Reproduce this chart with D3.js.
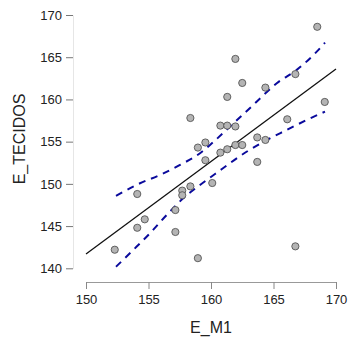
<!DOCTYPE html>
<html><head><meta charset="utf-8">
<script src="https://cdn.jsdelivr.net/npm/d3@7"></script>
<style>body{margin:0;background:#fff}svg{display:block}</style>
</head><body><svg id="c" width="350" height="340"></svg>
<script>
const xVals = [168.5,161.95,162.5,166.75,164.35,161.3,169.1,158.35,166.1,160.75,161.3,161.95,163.7,164.35,159.55,158.95,161.95,162.5,161.3,160.75,163.7,159.55,160.1,158.35,157.7,157.7,154.1,157.15,154.7,154.1,157.15,152.3,166.75,158.95];
const yVals = [168.6,164.8,161.95,163.0,161.4,160.3,159.7,157.8,157.65,156.9,156.9,156.8,155.5,155.2,154.9,154.3,154.6,154.6,154.1,153.7,152.6,152.8,150.1,149.7,149.2,148.65,148.8,146.9,145.8,144.8,144.3,142.2,142.6,141.2];
const fitX = [150,170];
const fitY = [141.7,163.6];
const upperX = [152.4,154.32,155.92,157.52,159.12,159.92,161.52,163.38,165.26,166.86,168.46,169.12];
const upperY = [148.57,150.07,151.05,152.24,153.63,154.61,156.78,159.35,161.92,163.5,165.66,166.73];
const lowerX = [152.4,153.78,155.12,156.46,157.78,159.12,160.32,162.98,164.46,166.06,167.66,169.12];
const lowerY = [140.19,142.17,144.15,146.32,148.29,149.87,151.17,153.93,155.2,156.39,157.57,158.55];
const xTicks = [150,155,160,165,170];
const yTicks = [140,145,150,155,160,165,170];

const svg = d3.select("#c");
const x = d3.scaleLinear().domain([150,170]).range([86,336]);
const y = d3.scaleLinear().domain([140,170]).range([268.3,15]);
const font = "Liberation Sans, Arial, sans-serif";

// y axis
const ya = svg.append("g").attr("transform","translate(73,0)")
  .call(d3.axisLeft(y).tickValues(yTicks).tickSize(7).tickSizeOuter(0).tickPadding(4).tickFormat(d3.format("d")));
ya.select(".domain").attr("stroke","#e6e6e6");
ya.selectAll(".tick line").attr("stroke","#777");
ya.selectAll("text").attr("font-family",font).attr("font-size",13).attr("fill","#222");

// x axis
const xa = svg.append("g").attr("transform","translate(0,282)")
  .call(d3.axisBottom(x).tickValues(xTicks).tickSize(7).tickSizeOuter(0).tickPadding(6).tickFormat(d3.format("d")));
xa.select(".domain").attr("stroke","#999");
xa.selectAll(".tick line").attr("stroke","#888");
xa.selectAll("text").attr("font-family",font).attr("font-size",13).attr("fill","#222");

// titles
svg.append("text").attr("x",211).attr("y",333).attr("text-anchor","middle")
  .attr("font-family",font).attr("font-size",16).attr("fill","#222").text("E_M1");
svg.append("text").attr("transform","translate(25,139) rotate(-90)").attr("text-anchor","middle")
  .attr("font-family",font).attr("font-size",16).attr("fill","#222").text("E_TECIDOS");

// fit line
const line = d3.line().x(d=>x(d[0])).y(d=>y(d[1]));
svg.append("path").datum(d3.zip(fitX,fitY)).attr("d",line)
  .attr("fill","none").attr("stroke","#111").attr("stroke-width",1.3);

// bands
const curve = d3.line().x(d=>x(d[0])).y(d=>y(d[1])).curve(d3.curveMonotoneX);
[[upperX,upperY],[lowerX,lowerY]].forEach(([bx,by])=>{
  svg.append("path").datum(d3.zip(bx,by)).attr("d",curve)
    .attr("fill","none").attr("stroke","#0a0a9c").attr("stroke-width",2)
    .attr("stroke-dasharray","7,6");
});

// points
svg.append("g").selectAll("circle").data(d3.zip(xVals,yVals)).join("circle")
  .attr("cx",d=>x(d[0])).attr("cy",d=>y(d[1])).attr("r",3.6)
  .attr("fill","#b4b4b4").attr("stroke","#555").attr("stroke-width",0.9);
</script></body></html>
